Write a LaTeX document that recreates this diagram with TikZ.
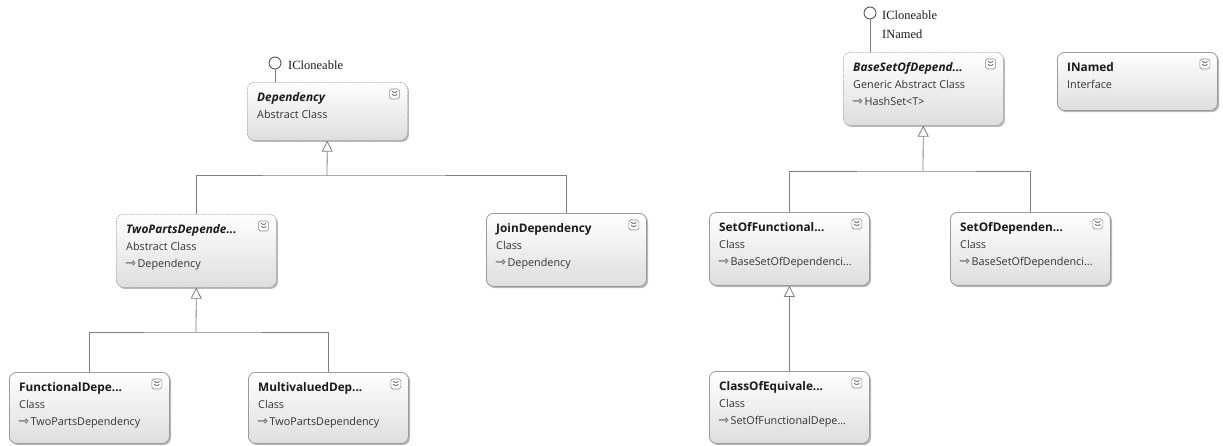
\documentclass[tikz,border=0pt]{standalone}
\usepackage{fontspec}
\setmainfont{Open Sans}
\newfontfamily\ifacefont{Liberation Serif}
\newfontfamily\arrfont{DejaVu Sans}
\usetikzlibrary{shadows,arrows.meta}
\definecolor{linegray}{HTML}{7F7F7F}
\definecolor{bordergray}{HTML}{9A9A9A}
\definecolor{txt}{HTML}{1A1A1A}
\definecolor{subtxt}{HTML}{333333}
\tikzset{
  boxbase/.style={rectangle, rounded corners=7pt, anchor=north west, inner sep=0pt,
    minimum width=160pt, top color=white, bottom color=black!13,
    drop shadow={shadow xshift=1.6pt, shadow yshift=-1.6pt, fill=black, opacity=0.28}},
  absbox/.style={boxbase, draw=bordergray, line width=0.6pt, dash pattern=on 1.4pt off 1pt},
  concbox/.style={boxbase, draw=bordergray, line width=0.8pt},
  ttl/.style={anchor=base west, inner sep=0pt, text=txt, font=\fontsize{11.8}{13}\selectfont\bfseries},
  sub/.style={anchor=base west, inner sep=0pt, text=subtxt, font=\fontsize{10.8}{12}\selectfont},
  collicon/.style={rectangle, rounded corners=1.8pt, minimum size=10pt, inner sep=0pt,
    draw=gray!90, line width=0.6pt, fill=white,
    path picture={
      \draw[gray!50!black, line width=0.6pt]
        ([xshift=-2.5pt,yshift=2.8pt]path picture bounding box.center) --
        ([yshift=0.6pt]path picture bounding box.center) --
        ([xshift=2.5pt,yshift=2.8pt]path picture bounding box.center)
        ([xshift=-2.5pt,yshift=-0.2pt]path picture bounding box.center) --
        ([yshift=-2.4pt]path picture bounding box.center) --
        ([xshift=2.5pt,yshift=-0.2pt]path picture bounding box.center);}},
  conn/.style={draw=linegray, line width=0.8pt},
  gen/.style={conn, -{Triangle[open, length=11pt, width=11pt, line width=0.8pt, fill=white]}},
  lolli/.style={circle, minimum size=12pt, inner sep=0pt, draw=black!75, line width=0.8pt, fill=white},
  ifacelbl/.style={anchor=west, inner sep=0pt, text=txt, font=\ifacefont\fontsize{12.5}{14}\selectfont},
}
\newcommand\inh{{\arrfont\fontsize{13}{13}\selectfont ⇾}\hspace{1.5pt}}
% #1 name, #2 style, #3 x, #4 y, #5 height, #6 title, #7 line 2
\newcommand\umlbox[7]{%
  \node[#2, minimum height=#5pt] (#1) at (#3,#4) {};
  \node[ttl] (#1t) at ([xshift=10pt,yshift=-19pt]#1.north west) {#6};
  \node[sub] (#1s) at ([xshift=10pt,yshift=-36pt]#1.north west) {#7};
  \node[collicon] (#1i) at ([xshift=-13pt,yshift=-12pt]#1.north east) {};
}
\newcommand\umlthird[2]{%
  \node[sub] (#1b) at ([xshift=9pt,yshift=-53pt]#1.north west) {\inh #2};
}
\begin{document}
\begin{tikzpicture}[x=1pt, y=-1pt]
\useasboundingbox (0,0) rectangle (1223,445);

% left hierarchy
\umlbox{dep}{absbox}{247}{82}{58}{\itshape Dependency}{Abstract Class}
\umlbox{two}{absbox}{116}{214}{73}{\itshape TwoPartsDepende...}{Abstract Class}
\umlthird{two}{Dependency}
\umlbox{join}{concbox}{486}{213}{73}{JoinDependency}{Class}
\umlthird{join}{Dependency}
\umlbox{fun}{concbox}{9}{372}{71}{FunctionalDepe...}{Class}
\umlthird{fun}{TwoPartsDependency}
\umlbox{mul}{concbox}{248}{372}{71}{MultivaluedDep...}{Class}
\umlthird{mul}{TwoPartsDependency}

% right hierarchy
\umlbox{base}{absbox}{843}{52}{73}{\itshape BaseSetOfDepend...}{Generic Abstract Class}
\umlthird{base}{HashSet<T>}
\umlbox{inam}{concbox}{1057}{52}{58}{INamed}{Interface}
\umlbox{sof}{concbox}{709}{212}{73}{SetOfFunctional...}{Class}
\umlthird{sof}{BaseSetOfDependenci...}
\umlbox{sod}{concbox}{950}{212}{73}{SetOfDependen...}{Class}
\umlthird{sod}{BaseSetOfDependenci...}
\umlbox{coe}{concbox}{709}{371}{72}{ClassOfEquivale...}{Class}
\umlthird{coe}{SetOfFunctionalDepe...}

% lollipops
\node[lolli] (l1) at (275,63) {};
\draw[conn] (l1.south) -- (l1.south |- dep.north);
\node[ifacelbl] (l1t) at (288,65) {ICloneable};
\node[lolli] (l2) at (870,13) {};
\draw[conn] (l2.south) -- (l2.south |- base.north);
\node[ifacelbl] (l2t) at (882,15) {ICloneable};
\node[ifacelbl] (l2u) at (882,34) {INamed};

% generalisations
\coordinate (dj) at (327,175);
\draw[conn] (two.north) |- (dj) -| (join.north);
\draw[gen] (dj) -- (dep.south);
\coordinate (tj) at (196,332);
\draw[conn] (fun.north) |- (tj) -| (mul.north);
\draw[gen] (tj) -- (two.south);
\coordinate (bj) at (923,171);
\draw[conn] (sof.north) |- (bj) -| (sod.north);
\draw[gen] (bj) -- (base.south);
\draw[gen] (coe.north) -- (sof.south);
\end{tikzpicture}
\end{document}
